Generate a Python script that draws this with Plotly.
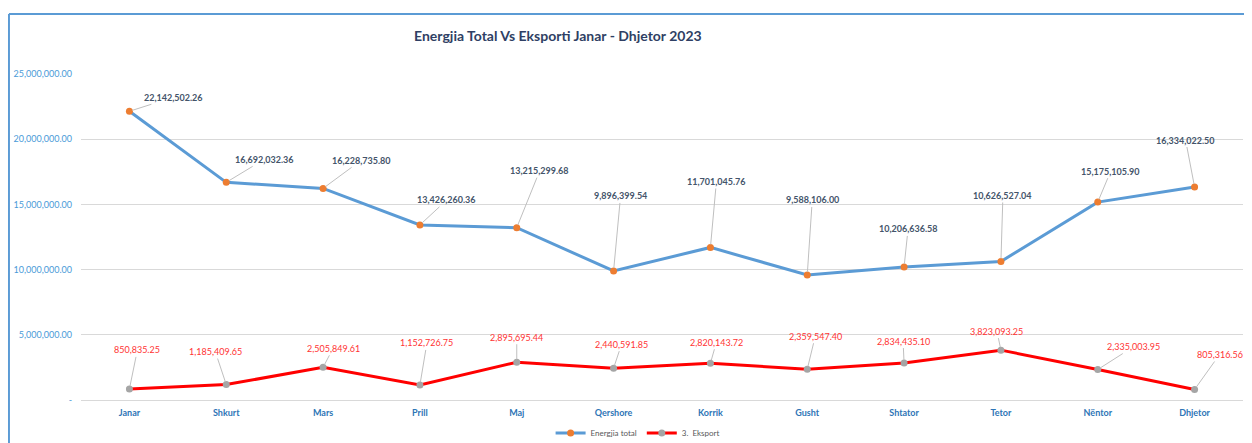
import plotly.graph_objects as go

months = ["Janar", "Shkurt", "Mars", "Prill", "Maj", "Qershore", "Korrik",
          "Gusht", "Shtator", "Tetor", "Nëntor", "Dhjetor"]
energy_total = [22142502.26, 16692032.36, 16228735.80, 13426260.36, 13215299.68, 9896399.54,
                11701045.76, 9588106.00, 10206636.58, 10626527.04, 15175105.90, 16334022.50]
export = [850835.25, 1185409.65, 2505849.61, 1152726.75, 2895695.44, 2440591.85,
          2820143.72, 2359547.40, 2834435.10, 3823093.25, 2335003.95, 805316.56]
y_ticks = [0, 5000000, 10000000, 15000000, 20000000, 25000000]
y_tick_labels = ["-", "5,000,000.00", "10,000,000.00", "15,000,000.00",
                 "20,000,000.00", "25,000,000.00"]

# label offsets (px) from each point, for the leader-line callouts
energy_offsets = [(44, -14), (38, -23), (38, -28), (27, -25), (23, -57), (7, -75),
                  (6, -66), (5, -75), (4, -38), (2, -66), (13, -31), (-9, -47)]
export_offsets = [(8, -39), (-11, -33), (10, -19), (7, -42), (0, -25), (8, -24),
                  (6, -21), (8, -33), (-1, -22), (-4, -19), (36, -23), (25, -35)]

BLUE = "#5b9bd5"
ORANGE = "#ed7d31"
RED = "#ff0000"
GREY = "#a5a5a5"
FONT = "Lato"

fig = go.Figure()
fig.add_trace(go.Scatter(
    x=months, y=energy_total, name="Energjia total", mode="lines+markers",
    line=dict(color=BLUE, width=3),
    marker=dict(color=ORANGE, size=7),
))
fig.add_trace(go.Scatter(
    x=months, y=export, name="3.  Eksport", mode="lines+markers",
    line=dict(color=RED, width=3),
    marker=dict(color=GREY, size=7),
))

annotations = []
for m, v, (dx, dy) in zip(months, energy_total, energy_offsets):
    annotations.append(dict(
        x=m, y=v, text=f"<b>{v:,.2f}</b>", showarrow=True, arrowhead=0,
        arrowwidth=1, arrowcolor="#bfbfbf", ax=dx, ay=dy, standoff=3,
        font=dict(family=FONT, size=9, color="#44546a"),
    ))
for m, v, (dx, dy) in zip(months, export, export_offsets):
    annotations.append(dict(
        x=m, y=v, text=f"{v:,.2f}", showarrow=True, arrowhead=0,
        arrowwidth=1, arrowcolor="#bfbfbf", ax=dx, ay=dy, standoff=3,
        font=dict(family=FONT, size=9, color="#ff3333"),
    ))

# page body adds an 8px margin, so the figure is 8px smaller each way
fig.update_layout(
    width=1244, height=435,
    margin=dict(l=73, r=9, t=66, b=43, autoexpand=False),
    paper_bgcolor="white", plot_bgcolor="white",
    font=dict(family=FONT),
    title=dict(
        text="<b>Energjia Total Vs Eksporti Janar - Dhjetor 2023</b>",
        x=0.442, xanchor="center", y=0.9356, yanchor="middle",
        font=dict(family=FONT, size=14, color="#2f3f64"),
    ),
    legend=dict(
        orientation="h", x=0.479, xanchor="center", y=-0.101, yanchor="middle",
        font=dict(family=FONT, size=8, color="#595959"),
        itemwidth=30,
    ),
    annotations=annotations,
    shapes=[
        dict(type="line", xref="paper", yref="paper", x0=-0.062, x1=-0.062,
             y0=1.184, y1=-0.2, line=dict(color=BLUE, width=2)),
        dict(type="line", xref="paper", yref="paper", x0=-0.062, x1=1.01,
             y0=1.184, y1=1.184, line=dict(color=BLUE, width=2)),
    ],
)
fig.update_xaxes(
    range=[-0.5, 11.5],
    showgrid=False, showline=False, ticks="", automargin=False,
    ticklabelstandoff=6,
    tickfont=dict(family=FONT, size=9, color="#2e75b6", weight="bold"),
)
fig.update_yaxes(
    range=[0, 25000000], tickvals=y_ticks, ticktext=y_tick_labels,
    showgrid=True, gridcolor="#d9d9d9", gridwidth=1,
    zeroline=True, zerolinecolor="#d9d9d9", zerolinewidth=1,
    showline=False, ticks="", ticklabelstandoff=8, automargin=False,
    tickfont=dict(family=FONT, size=9, color="#4a9ad8"),
)

fig.write_html("out.html")
